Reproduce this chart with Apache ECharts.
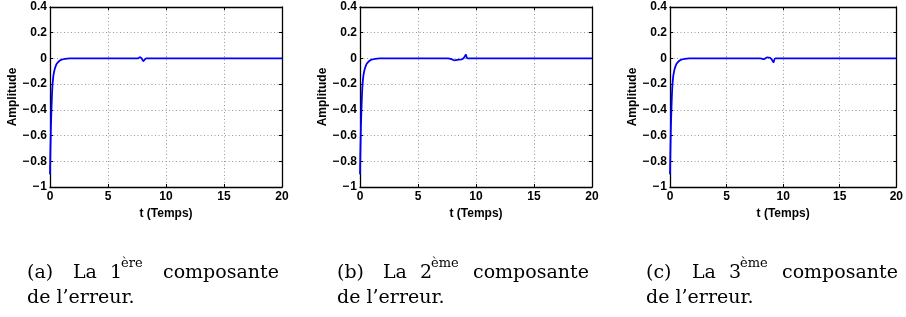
<!DOCTYPE html>
<html>
<head>
    <meta charset="UTF-8">
    <title>Composantes de l'erreur</title>
    <script src="https://cdn.jsdelivr.net/npm/echarts@6/dist/echarts.min.js"></script>
    <style>
        html, body { margin: 0; padding: 0; background: #fff; }
        #chart { width: 906px; height: 317px; }
    </style>
</head>
<body>
<div id="chart"></div>
<script>
    // time samples (s) and error values
    var t1 = [0, 0.04, 0.08, 0.12, 0.16, 0.2, 0.25, 0.3, 0.4, 0.5, 0.6, 0.8, 1.0, 1.3, 1.7, 7.6, 7.76, 7.9, 8.05, 8.2, 8.3, 20];
    var e1 = [-0.9, -0.7, -0.53, -0.41, -0.31, -0.23, -0.17, -0.13, -0.085, -0.058, -0.04, -0.02, -0.01, -0.003, 0, 0, 0.01, 0, -0.02, -0.005, 0, 0];

    var t2 = [0, 0.04, 0.08, 0.12, 0.16, 0.2, 0.25, 0.3, 0.4, 0.5, 0.6, 0.8, 1.0, 1.3, 1.7, 7.6, 7.9, 8.15, 8.5, 8.8, 9.0, 9.12, 9.28, 20];
    var e2 = [-0.9, -0.7, -0.53, -0.41, -0.31, -0.23, -0.17, -0.13, -0.085, -0.058, -0.04, -0.02, -0.01, -0.003, 0, 0, -0.006, -0.015, -0.01, -0.006, 0.01, 0.03, 0, 0];

    var t3 = [0, 0.04, 0.08, 0.12, 0.16, 0.2, 0.25, 0.3, 0.4, 0.5, 0.6, 0.8, 1.0, 1.3, 1.7, 8.0, 8.3, 8.6, 8.85, 9.0, 9.15, 9.3, 20];
    var e3 = [-0.9, -0.7, -0.53, -0.41, -0.31, -0.23, -0.17, -0.13, -0.085, -0.058, -0.04, -0.02, -0.01, -0.003, 0, 0, -0.005, 0.008, 0.005, -0.01, -0.03, 0, 0];

    var xTicks = [0, 5, 10, 15, 20];
    var yTicks = [-1, -0.8, -0.6, -0.4, -0.2, 0, 0.2, 0.4];
    var captionLetters = ['(a)', '(b)', '(c)'];
    var captionRanks = ['1', '2', '3'];
    var captionSups = ['ère', 'ème', 'ème'];

    var chart = echarts.init(document.getElementById('chart'), null, {renderer: 'canvas'});

    var lefts = [50, 360, 670];
    var capX = [27, 337, 646];
    var series = [[t1, e1], [t2, e2], [t3, e3]];
    var axisFont = {fontFamily: 'Liberation Sans', fontWeight: 'bold', fontSize: 12, color: '#000'};

    // MATLAB style minus: long dash with a hair space after it
    function fmtY(v) {
        return String(Math.round(v * 10) / 10).replace('-', '\u2212\u200a');
    }

    var grid = [], xAxis = [], yAxis = [], ser = [], graphic = [];
    for (var i = 0; i < 3; i++) {
        grid.push({left: lefts[i], top: 7, width: 232, height: 180});
        var xa = {
            type: 'value', gridIndex: i, min: xTicks[0], max: xTicks[xTicks.length - 1], interval: 5,
            axisLine: {show: true, onZero: false, lineStyle: {color: '#000', width: 1.3}},
            axisTick: {show: true, inside: true, length: 3, lineStyle: {color: '#000'}}
        };
        var ya = {
            type: 'value', gridIndex: i, min: yTicks[0], max: yTicks[yTicks.length - 1], interval: 0.2,
            axisLine: {show: true, onZero: false, lineStyle: {color: '#000', width: 1.3}},
            axisTick: {show: true, inside: true, length: 3, lineStyle: {color: '#000'}}
        };
        xAxis.push(Object.assign({}, xa, {
            position: 'bottom',
            name: 't (Temps)', nameLocation: 'middle', nameGap: 16,
            nameTextStyle: axisFont,
            axisLabel: Object.assign({margin: 4}, axisFont),
            splitLine: {show: true, lineStyle: {type: [1, 2.5], color: '#999'}}
        }));
        xAxis.push(Object.assign({}, xa, {
            position: 'top', axisLabel: {show: false}, splitLine: {show: false}
        }));
        yAxis.push(Object.assign({}, ya, {
            position: 'left',
            name: 'Amplitude', nameLocation: 'middle', nameGap: 26,
            nameTextStyle: axisFont,
            axisLabel: Object.assign({margin: 3, formatter: fmtY}, axisFont),
            splitLine: {show: true, lineStyle: {type: [1, 2.5], color: '#999'}}
        }));
        yAxis.push(Object.assign({}, ya, {
            position: 'right', axisLabel: {show: false}, splitLine: {show: false}
        }));

        var ts = series[i][0], es = series[i][1];
        ser.push({
            type: 'line', xAxisIndex: 2 * i, yAxisIndex: 2 * i,
            data: ts.map(function (t, k) { return [t, es[k]]; }),
            smooth: 0.3, showSymbol: false, symbol: 'none',
            lineStyle: {color: '#0000ff', width: 1.8},
            animation: false
        });

        var cf = '19px "DejaVu Serif"';
        var ox = capX[i];
        graphic.push(
            {type: 'text', left: ox, top: 264, style: {text: captionLetters[i], font: cf, fill: '#000'}},
            {type: 'text', left: ox + 46, top: 264, style: {text: 'La', font: cf, fill: '#000'}},
            {type: 'text', left: ox + 83, top: 264, style: {text: captionRanks[i], font: cf, fill: '#000'}},
            {type: 'text', left: ox + 94, top: 257, style: {text: captionSups[i], font: '13px "DejaVu Serif"', fill: '#000'}},
            {type: 'text', left: ox + 136, top: 264, style: {text: 'composante', font: cf, fill: '#000'}},
            {type: 'text', left: ox, top: 289, style: {text: 'de l\u2019erreur.', font: cf, fill: '#000'}}
        );
    }

    chart.setOption({
        animation: false,
        grid: grid,
        xAxis: xAxis,
        yAxis: yAxis,
        series: ser,
        graphic: graphic
    });
</script>
</body>
</html>
